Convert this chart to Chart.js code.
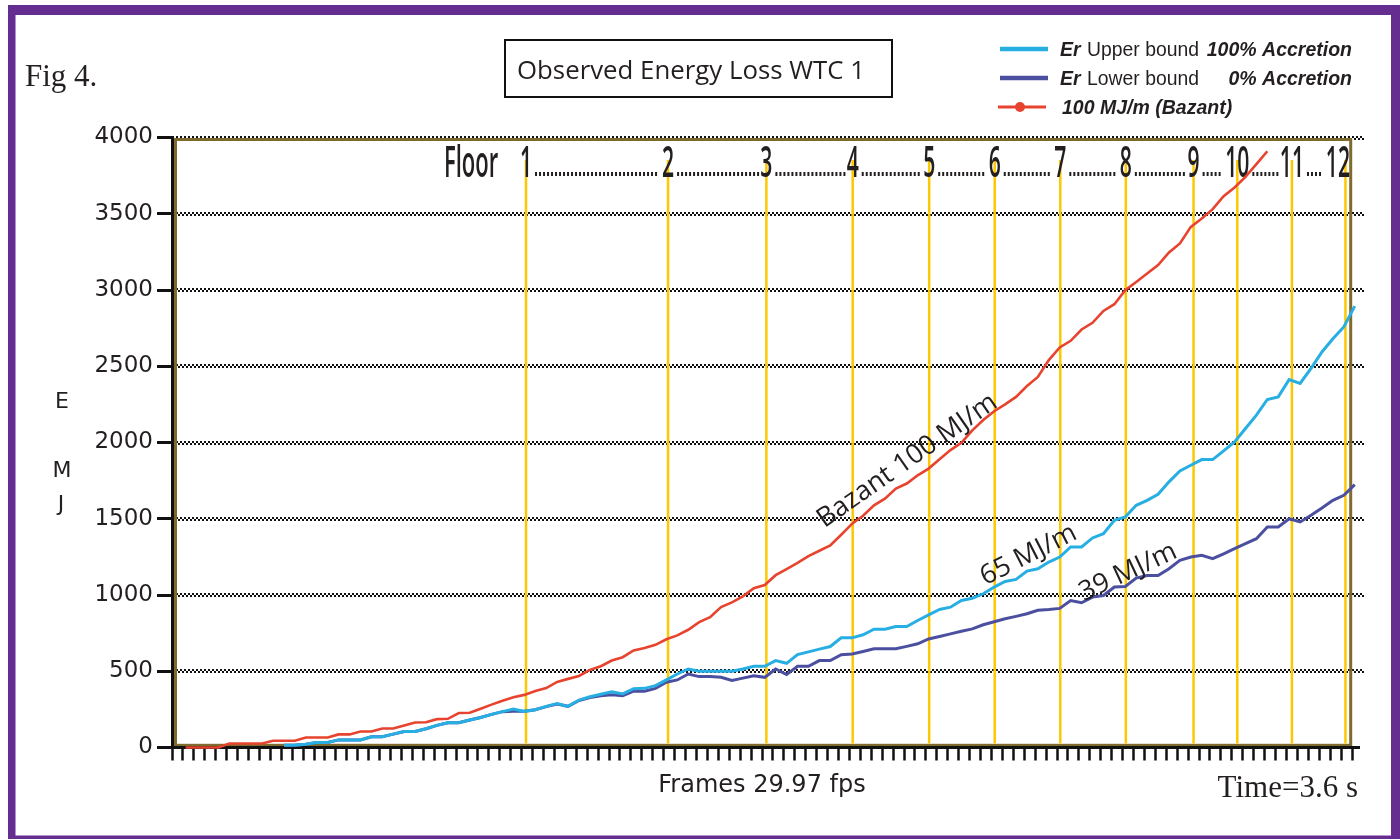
<!DOCTYPE html>
<html>
<head>
<meta charset="utf-8">
<title>Observed Energy Loss WTC 1</title>
<script src="https://cdn.jsdelivr.net/npm/chart.js@4.4.1/dist/chart.umd.min.js"></script>
<style>
  html, body { margin: 0; padding: 0; background: #fff; }
  canvas { display: block; }
</style>
</head>
<body>
<canvas id="chart" width="1400" height="839"></canvas>
<script>
// Video frame index (29.97 fps)
const frameNumbers = [
  0, 1, 2, 3, 4, 5, 6, 7, 8, 9,
  10, 11, 12, 13, 14, 15, 16, 17, 18, 19,
  20, 21, 22, 23, 24, 25, 26, 27, 28, 29,
  30, 31, 32, 33, 34, 35, 36, 37, 38, 39,
  40, 41, 42, 43, 44, 45, 46, 47, 48, 49,
  50, 51, 52, 53, 54, 55, 56, 57, 58, 59,
  60, 61, 62, 63, 64, 65, 66, 67, 68, 69,
  70, 71, 72, 73, 74, 75, 76, 77, 78, 79,
  80, 81, 82, 83, 84, 85, 86, 87, 88, 89,
  90, 91, 92, 93, 94, 95, 96, 97, 98, 99,
  100, 101, 102, 103, 104, 105, 106, 107, 108
];

// Energy axis ticks (MJ)
const energyTicks = [0, 500, 1000, 1500, 2000, 2500, 3000, 3500, 4000];

// 100 MJ/m (Bazant) – energy per frame, MJ
const bazant100 = [
  null, 0, 0, 0, 0, 26, 26, 26, 26, 44,
  44, 44, 66, 66, 66, 86, 86, 105, 105, 125,
  125, 145, 164, 166, 186, 188, 226, 228, 254, 281,
  307, 329, 345, 370, 390, 430, 450, 469, 509, 533,
  570, 592, 636, 653, 673, 710, 735, 772, 822, 855,
  921, 952, 991, 1045, 1065, 1130, 1170, 1210, 1255, 1290,
  1325, 1395, 1468, 1520, 1588, 1632, 1698, 1731, 1785, 1829,
  1890, 1950, 1998, 2080, 2147, 2205, 2250, 2299, 2370, 2430,
  2540, 2623, 2667, 2741, 2785, 2863, 2907, 2999, 3053, 3108,
  3163, 3246, 3305, 3414, 3469, 3530, 3615, 3672, 3742, 3825,
  3910, null, null, null, null, null, null, null, null
];

// Er upper bound, 100% accretion – MJ
const upperBound = [
  null, null, null, null, null, null, null, null, null, null,
  15, 15, 22, 33, 33, 50, 50, 50, 70, 70,
  88, 105, 105, 123, 145, 162, 162, 180, 197, 217,
  235, 252, 237, 248, 270, 289, 270, 311, 333, 349,
  366, 351, 386, 388, 406, 443, 482, 515, 500, 500,
  500, 500, 515, 533, 533, 570, 552, 609, 627, 645,
  662, 719, 719, 739, 776, 776, 793, 793, 833, 870,
  905, 920, 964, 979, 1008, 1052, 1089, 1102, 1157, 1172,
  1216, 1249, 1315, 1315, 1374, 1402, 1490, 1512, 1588, 1621,
  1661, 1742, 1814, 1851, 1888, 1888, 1945, 2004, 2092, 2179,
  2282, 2299, 2413, 2387, 2486, 2594, 2680, 2758, 2894
];

// Er lower bound, 0% accretion – MJ
const lowerBound = [
  null, null, null, null, null, null, null, null, null, null,
  15, 15, 22, 33, 33, 50, 50, 50, 70, 70,
  88, 105, 105, 123, 145, 162, 162, 180, 197, 217,
  235, 237, 237, 248, 268, 285, 270, 308, 328, 340,
  346, 340, 369, 369, 388, 428, 443, 482, 465, 465,
  460, 440, 455, 471, 460, 515, 478, 533, 533, 570,
  570, 609, 613, 630, 647, 647, 647, 663, 680, 712,
  728, 745, 762, 778, 805, 825, 844, 860, 877, 900,
  905, 912, 964, 949, 986, 997, 1052, 1056, 1111, 1128,
  1128, 1172, 1227, 1249, 1260, 1238, 1270, 1304, 1337, 1369,
  1446, 1446, 1500, 1479, 1523, 1570, 1621, 1654, 1724
];

// Floors passed, and the frame at which each one is reached
const floorNumbers = ['1', '2', '3', '4', '5', '6', '7', '8', '9', '10', '11', '12'];
const floorFrames = [32.4, 45.4, 54.4, 62.3, 69.3, 75.3, 81.3, 87.3, 93.5, 97.5, 102.5, 107.4];

// Curve annotations and the point (frame, MJ) each one is centred on
const curveNotes = ['Bazant 100 MJ/m', '65 MJ/m', '39 MJ/m'];
const curveNoteFrames = [67.3, 78.4, 87.5];
const curveNoteEnergy = [1880, 1262, 1150];

// ---------------------------------------------------------------------------
const INK = '#231f20';
const RED = '#e8432e';
const LIGHT_BLUE = '#27aee3';
const DARK_BLUE = '#4b4f9f';
const OLIVE = '#7f6b2d';
const GOLD = '#fcc800';
const PURPLE = '#662d91';
const NOTE_ANGLES = [-35, -27, -25];

function condensedText(ctx, text, x, y, sx, align) {
  ctx.save();
  ctx.translate(x, y);
  ctx.scale(sx, 1);
  ctx.textAlign = align || 'center';
  ctx.fillText(text, 0, 0);
  ctx.restore();
  return ctx.measureText(text).width * sx;
}

const decorations = {
  id: 'decorations',
  beforeDraw(chart) {
    const { ctx, chartArea: a } = chart;
    const y = chart.scales.y;
    ctx.save();
    ctx.fillStyle = '#fff';
    ctx.fillRect(0, 0, chart.width, chart.height);

    // page border
    ctx.fillStyle = PURPLE;
    ctx.fillRect(8, 5, 1392, 10);
    ctx.fillRect(8, 5, 7.5, 834);
    ctx.fillRect(1391, 5, 9, 834);
    ctx.fillRect(8, 835.5, 1392, 3.5);

    // dotted horizontal grid, running a little past the plot on the right
    ctx.fillStyle = '#111';
    energyTicks.forEach(v => {
      if (v === 0) return;
      const py = Math.round(y.getPixelForValue(v));
      for (let px = a.left; px < a.right + 9; px += 4) {
        ctx.fillRect(px, py - 2, 2, 2);
        ctx.fillRect(px + 2, py, 2, 2);
      }
    });

    // olive plot frame
    ctx.strokeStyle = OLIVE;
    ctx.lineWidth = 3;
    ctx.strokeRect(a.left + 3.5, a.top + 2, a.right - a.left - 4.8, a.bottom - a.top - 4.2);
    ctx.restore();
  },
  beforeDatasetsDraw(chart) {
    const { ctx, chartArea: a } = chart;
    const x = chart.scales.x;
    ctx.save();

    // floor markers
    ctx.strokeStyle = GOLD;
    ctx.lineWidth = 2.5;
    floorFrames.forEach(f => {
      const px = x.getPixelForValue(f);
      ctx.beginPath();
      ctx.moveTo(px, 160);
      ctx.lineTo(px, a.bottom - 4);
      ctx.stroke();
    });

    // floor labels with dotted leaders
    ctx.fillStyle = INK;
    ctx.font = '600 44px "Open Sans"';
    ctx.textBaseline = 'alphabetic';
    const sx = 0.48;
    condensedText(ctx, 'Floor', 444, 177, 0.5, 'left');
    const spans = floorNumbers.map((t, i) => {
      let cx = x.getPixelForValue(floorFrames[i]);
      const w = ctx.measureText(t).width * sx;
      if (cx + w / 2 > a.right - 2) cx = a.right - 2 - w / 2;
      condensedText(ctx, t, cx, 177, sx, 'center');
      return [cx - w / 2, cx + w / 2];
    });
    for (let i = 0; i < spans.length - 1; i++) {
      for (let px = spans[i][1] + 3; px < spans[i + 1][0] - 3; px += 4) {
        ctx.fillRect(px, 172, 2, 4);
      }
    }
    ctx.restore();
  },
  afterDatasetsDraw(chart) {
    const { ctx } = chart;
    const x = chart.scales.x, y = chart.scales.y;
    ctx.save();
    ctx.fillStyle = INK;
    ctx.font = '27px "Open Sans"';
    ctx.textAlign = 'center';
    ctx.textBaseline = 'middle';
    curveNotes.forEach((t, i) => {
      ctx.save();
      ctx.translate(x.getPixelForValue(curveNoteFrames[i]), y.getPixelForValue(curveNoteEnergy[i]));
      ctx.rotate(NOTE_ANGLES[i] * Math.PI / 180);
      ctx.fillText(t, 0, 0);
      ctx.restore();
    });
    ctx.restore();
  },
  afterDraw(chart) {
    const { ctx, chartArea: a } = chart;
    ctx.save();

    // axis line runs on past the last frame tick
    ctx.fillStyle = '#111';
    ctx.fillRect(a.right, a.bottom - 1.5, 8, 3);

    ctx.fillStyle = INK;
    ctx.textBaseline = 'alphabetic';

    // figure number
    ctx.font = '31px "Liberation Serif"';
    ctx.textAlign = 'left';
    ctx.fillText('Fig 4.', 25, 86);

    // title box
    ctx.strokeStyle = '#111';
    ctx.lineWidth = 2;
    ctx.strokeRect(505, 40, 387, 57);
    ctx.font = '26px "Open Sans"';
    ctx.fillText('Observed Energy Loss WTC 1', 517, 79, 348);

    // legend
    const rows = [49, 78, 107];
    ctx.lineCap = 'butt';
    ctx.strokeStyle = LIGHT_BLUE; ctx.lineWidth = 4.5;
    ctx.beginPath(); ctx.moveTo(1000, rows[0]); ctx.lineTo(1048, rows[0]); ctx.stroke();
    ctx.strokeStyle = DARK_BLUE;
    ctx.beginPath(); ctx.moveTo(1000, rows[1]); ctx.lineTo(1048, rows[1]); ctx.stroke();
    ctx.strokeStyle = RED; ctx.lineWidth = 3.2;
    ctx.beginPath(); ctx.moveTo(998, rows[2]); ctx.lineTo(1046, rows[2]); ctx.stroke();
    ctx.fillStyle = RED;
    ctx.beginPath(); ctx.arc(1020, rows[2], 5, 0, Math.PI * 2); ctx.fill();

    ctx.fillStyle = INK;
    const bi = 'italic bold 19.5px "Liberation Sans"';
    const rg = '19.5px "Liberation Sans"';
    ctx.textAlign = 'left';
    ctx.font = bi; ctx.fillText('Er', 1060, 56);
    ctx.font = rg; ctx.fillText('Upper bound', 1087, 56, 112);
    ctx.font = bi; ctx.textAlign = 'right'; ctx.fillText('100% Accretion', 1352, 56);
    ctx.textAlign = 'left';
    ctx.font = bi; ctx.fillText('Er', 1060, 85);
    ctx.font = rg; ctx.fillText('Lower bound', 1087, 85, 112);
    ctx.font = bi; ctx.textAlign = 'right'; ctx.fillText('0% Accretion', 1352, 85);
    ctx.textAlign = 'left';
    ctx.font = bi; ctx.fillText('100 MJ/m (Bazant)', 1062, 114);

    // axis captions
    ctx.font = '22px "DejaVu Sans"';
    ctx.textAlign = 'center';
    ctx.fillText('E', 62, 408);
    ctx.fillText('M', 62, 477);
    ctx.fillText('J', 61, 511);
    ctx.font = '24px "DejaVu Sans"';
    ctx.fillText('Frames 29.97 fps', 762, 792, 212);
    ctx.font = '31px "Liberation Serif"';
    ctx.textAlign = 'right';
    ctx.fillText('Time=3.6 s', 1358, 797);
    ctx.restore();
  }
};

new Chart(document.getElementById('chart'), {
  type: 'line',
  data: {
    labels: frameNumbers,
    datasets: [
      { label: '100 MJ/m (Bazant)', data: bazant100, xAxisID: 'xd', borderColor: RED,
        borderWidth: 2.6, pointRadius: 0, tension: 0, order: 0, clip: false },
      { label: 'Er Upper bound 100% Accretion', data: upperBound, xAxisID: 'xd', borderColor: LIGHT_BLUE,
        borderWidth: 3, pointRadius: 0, tension: 0, order: 1, clip: false },
      { label: 'Er Lower bound 0% Accretion', data: lowerBound, xAxisID: 'xd', borderColor: DARK_BLUE,
        borderWidth: 3, pointRadius: 0, tension: 0, order: 2, clip: false }
    ]
  },
  options: {
    responsive: false,
    animation: false,
    devicePixelRatio: 1,
    layout: { padding: { left: 0, top: 137.5, right: 48, bottom: 71.5 } },
    plugins: { legend: { display: false }, tooltip: { enabled: false }, title: { display: false } },
    scales: {
      x: {
        type: 'linear', position: 'bottom', min: 0, max: 108,
        ticks: { stepSize: 1, autoSkip: false, maxRotation: 0, padding: 0, callback: () => '' },
        grid: { drawOnChartArea: false, drawTicks: true, tickLength: 13, tickWidth: 2.5, tickColor: '#111' },
        border: { display: true, color: '#111', width: 3 },
        afterFit: s => { s.height = 20; }
      },
      xd: { type: 'linear', position: 'bottom', min: -0.25, max: 107.75, display: false },
      y: {
        min: 0, max: 4000,
        afterBuildTicks: s => { s.ticks = energyTicks.map(v => ({ value: v })); },
        ticks: { padding: 4, color: INK, font: { family: 'DejaVu Sans', size: 23 }, callback: v => String(v) },
        grid: { drawOnChartArea: false, drawTicks: true, tickLength: 15, tickWidth: 3, tickColor: '#111' },
        border: { display: true, color: '#111', width: 3 },
        afterFit: s => { s.width = 172; }
      }
    }
  },
  plugins: [decorations]
});
</script>
</body>
</html>
